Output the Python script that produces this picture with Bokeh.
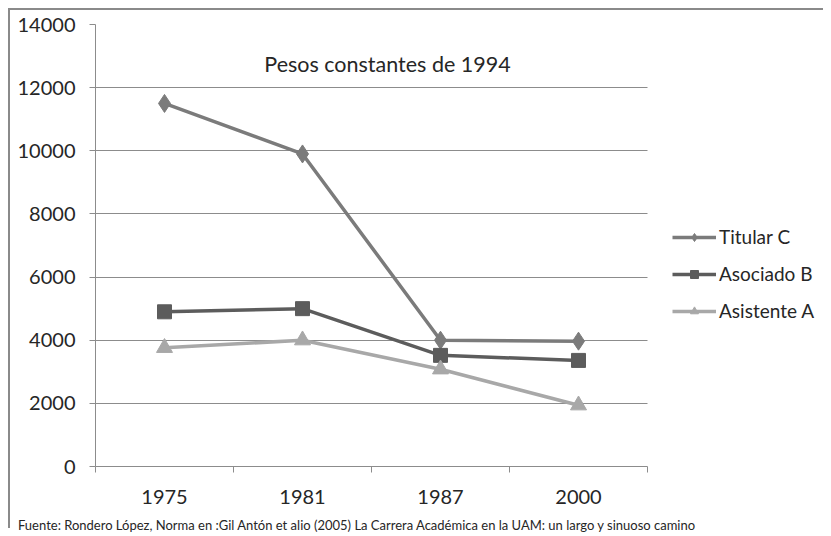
from bokeh.plotting import figure
from bokeh.models import Range1d, FixedTicker, Legend, LegendItem, Label, BoxAnnotation, Div
from bokeh.layouts import column
from bokeh.embed import file_html
from bokeh.resources import INLINE

years = ["1975", "1981", "1987", "2000"]
titular_c = [11500, 9900, 4000, 3970]
asociado_b = [4900, 5000, 3520, 3360]
asistente_a = [3760, 4000, 3080, 1940]
y_ticks = [0, 2000, 4000, 6000, 8000, 10000, 12000, 14000]
source_note = ("Fuente: Rondero López, Norma en :Gil Antón et alio (2005) "
               "La Carrera Académica en la UAM: un largo  y sinuoso camino")

FONT = "Lato"
TXT = "#262626"
GRID = "#8c8c8c"
BORDER = "#8a8a8a"

W, H_FIG, H_FOOT = 823, 513, 15
PLOT_LEFT, PLOT_RIGHT, PLOT_TOP, PLOT_BOTTOM = 95, 647, 24, 466

n = len(years)
xs = [i + 0.5 for i in range(n)]
x_end = n * (W - PLOT_LEFT) / (PLOT_RIGHT - PLOT_LEFT)

p = figure(width=W, height=H_FIG, output_backend="svg", toolbar_location=None,
           x_range=Range1d(0, x_end), y_range=Range1d(0, 14000),
           min_border_left=PLOT_LEFT, min_border_right=0, min_border_top=PLOT_TOP,
           min_border_bottom=H_FIG - PLOT_BOTTOM)
p.outline_line_color = None
p.background_fill_color = "white"
p.border_fill_color = None

# x axis
xa = p.xaxis[0]
xa.bounds = (0, n)
xa.ticker = FixedTicker(ticks=xs, minor_ticks=list(range(n + 1)))
xa.major_label_overrides = {x: y for x, y in zip(xs, years)}
xa.major_tick_line_color = None
xa.minor_tick_line_color = GRID
xa.minor_tick_out = 6
xa.minor_tick_in = 0
xa.axis_line_color = GRID
xa.major_label_text_font = FONT
xa.major_label_text_font_size = "20px"
xa.major_label_text_color = TXT
xa.major_label_standoff = 17
p.xgrid.grid_line_color = None

# y axis
ya = p.yaxis[0]
ya.ticker = FixedTicker(ticks=y_ticks)
ya.minor_tick_line_color = None
ya.major_tick_line_color = GRID
ya.major_tick_out = 6
ya.major_tick_in = 0
ya.axis_line_color = GRID
ya.major_label_text_font = FONT
ya.major_label_text_font_size = "20px"
ya.major_label_text_color = TXT
ya.major_label_standoff = 14
p.ygrid.grid_line_color = GRID
p.ygrid.grid_line_width = 1

# white mask: plot area ends at the last category boundary
p.add_layout(BoxAnnotation(left=n, fill_color="white", fill_alpha=1, line_color=None,
                           level="underlay"))

series = [
    ("Titular C", titular_c, "#7b7b7b", "diamond", 18),
    ("Asociado B", asociado_b, "#5c5c5c", "square", 14),
    ("Asistente A", asistente_a, "#a8a8a8", "triangle", 16),
]
items = []
for name, vals, col, mk, sz in series:
    l = p.line(xs, vals, line_color=col, line_width=3.5)
    m = p.scatter(xs, vals, marker=mk, size=sz, fill_color=col, line_color=col)
    items.append(LegendItem(label=name, renderers=[l, m]))

leg = Legend(items=items, location=(672 - PLOT_LEFT, 144), orientation="vertical",
             border_line_color=None, background_fill_alpha=0,
             padding=0, margin=0, spacing=14, glyph_width=44, glyph_height=20,
             label_height=20, label_standoff=3,
             label_text_font=FONT, label_text_font_size="19px", label_text_color=TXT)
p.add_layout(leg, "center")

title = Label(x=292, y=403, x_units="screen", y_units="screen",
              text="Pesos constantes de 1994", text_font=FONT, text_font_size="21.5px",
              text_color=TXT, text_align="center", text_baseline="middle")
p.add_layout(title)

footer = Div(text=source_note, width=W, height=H_FOOT,
             styles={"font-family": FONT, "font-size": "13px", "color": TXT,
                     "text-indent": "13px", "white-space": "nowrap",
                     "line-height": "15px", "overflow": "hidden"})

layout = column(p, footer, spacing=0, width=W, height=H_FIG + H_FOOT,
                styles={
                    "background-color": "white",
                    "background-image": ", ".join([
                        "linear-gradient(to right, white 8px, transparent 8px)",
                        "linear-gradient(to bottom, white 8px, transparent 8px)",
                        f"linear-gradient(to bottom, transparent 8px, {BORDER} 8px, {BORDER} 10px, transparent 10px)",
                        f"linear-gradient(to right, transparent 8px, {BORDER} 8px, {BORDER} 10px, transparent 10px)",
                    ]),
                })

open("out.html", "w").write(file_html(layout, INLINE))
